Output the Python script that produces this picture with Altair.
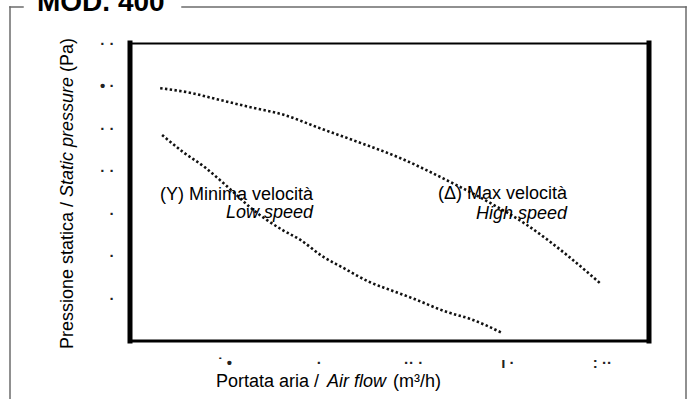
import altair as alt
import pandas as pd

# ---- data ----
high_flow = [160, 330, 460, 650, 810, 1005, 1205, 1430, 1695, 1910, 2105, 2315, 2490]
high_pressure = [297, 291, 284, 274, 266, 250, 234, 215, 187, 162, 136, 101, 68]

low_flow = [170, 281, 397, 487, 567, 636, 726, 811, 901, 1023, 1129, 1272, 1378, 1499, 1680, 1802, 1976]
low_pressure = [242, 222, 204, 187, 171, 157, 142, 130, 119, 99, 86, 69, 60, 50, 34, 26, 9]

# tick labels are unreadable dots in the scan: reproduce them as dots
x_ticks = [500, 1000, 1500, 2000, 2500]
x_tick_text = ["˙ •", "·", "·· ·", "ı ·", ": ··"]
y_ticks = [50, 100, 150, 200, 250, 300, 350]
y_tick_text = ["·", "·", "·", "·  ·", "·  ·", "• ·", "· ·"]

FONT = "Liberation Sans"
W, H = 519, 298
LEFT, TOP = 130, 43


def label_expr(vals, texts):
    expr = "''"
    for v, t in zip(reversed(vals), reversed(texts)):
        expr = f"datum.value == {v} ? '{t}' : ({expr})"
    return expr


df = pd.concat([
    pd.DataFrame({"flow": high_flow, "pressure": high_pressure, "speed": "high"}),
    pd.DataFrame({"flow": low_flow, "pressure": low_pressure, "speed": "low"}),
])

one = pd.DataFrame({"k": [0]})

lines = alt.Chart(df).mark_line(
    color="#111111", strokeWidth=2.6, strokeDash=[2.4, 2.4], interpolate="monotone"
).encode(
    x=alt.X("flow:Q", scale=alt.Scale(domain=[0, 2750], nice=False, zero=False),
            axis=alt.Axis(values=x_ticks, labelExpr=label_expr(x_ticks, x_tick_text),
                          title=None, domain=False, ticks=False, tickSize=0, grid=False,
                          labelPadding=21, labelBaseline="middle", labelFontSize=15,
                          labelFontWeight="bold", labelColor="#222222", labelFont=FONT)),
    y=alt.Y("pressure:Q", scale=alt.Scale(domain=[0, 350], nice=False),
            axis=alt.Axis(values=y_ticks, labelExpr=label_expr(y_ticks, y_tick_text),
                          title=None, domain=False, ticks=False, tickSize=0, grid=False,
                          labelPadding=16, labelFontSize=15, labelFontWeight="bold",
                          labelColor="#222222", labelFont=FONT)),
    detail="speed:N",
)


def hrule(x1, x2, y, w, color="black"):
    return alt.Chart(one).mark_rule(strokeWidth=w, color=color, strokeCap="square").encode(
        x=alt.value(x1), x2=alt.value(x2), y=alt.value(y))


def vrule(x, y1, y2, w, color="black"):
    return alt.Chart(one).mark_rule(strokeWidth=w, color=color, strokeCap="square").encode(
        x=alt.value(x), y=alt.value(y1), y2=alt.value(y2))


def txt(s, x, y, size=18, style="normal", weight="normal", align="left", angle=0):
    kw = dict(font=FONT, fontSize=size, fontStyle=style, fontWeight=weight,
              align=align, baseline="alphabetic", color="black")
    if angle:
        kw["angle"] = angle
    return alt.Chart(one).mark_text(**kw).encode(
        x=alt.value(x), y=alt.value(y), text=alt.value(s))


# plot frame
frame = [
    vrule(0, 0, H, 5),
    vrule(W, 0, H, 5),
    hrule(0, W, 0.5, 2),
    hrule(0, W, H, 3),
]

# outer frame (relative to plot origin)
gray = "#6b6b6b"
outer = [
    hrule(10 - LEFT, 23 - LEFT, 7 - TOP, 1.5, gray),
    hrule(182 - LEFT, 686 - LEFT, 7 - TOP, 1.5, gray),
    vrule(10 - LEFT, 7 - TOP, 420 - TOP, 1.5, gray),
    vrule(686 - LEFT, 7 - TOP, 420 - TOP, 1.5, gray),
]

texts = [
    txt("MOD. 400", 37 - LEFT, 10.5 - TOP, size=28, weight="bold"),
    # x title
    txt("Portata aria /", 216 - LEFT, 387 - TOP),
    txt("Air flow", 327 - LEFT, 387 - TOP, style="italic"),
    txt("(m³/h)", 393 - LEFT, 387 - TOP),
    # y title (rotated)
    txt("Pressione statica /", 72.5 - LEFT, 349 - TOP, angle=270),
    txt("Static pressure", 72.5 - LEFT, 197 - TOP, style="italic", angle=270),
    txt("(Pa)", 72.5 - LEFT, 72 - TOP, angle=270),
    # curve annotations
    txt("(Y) Minima velocità", 313 - LEFT, 200 - TOP, align="right"),
    txt("Low speed", 313 - LEFT, 218 - TOP, style="italic", align="right"),
    txt("(Δ) Max velocità", 567 - LEFT, 199 - TOP, align="right"),
    txt("High speed", 567 - LEFT, 219 - TOP, style="italic", align="right"),
]

chart = alt.layer(lines, *frame, *outer, *texts).properties(
    width=W, height=H,
    padding={"left": LEFT, "top": TOP, "right": 690 - LEFT - W, "bottom": 399 - TOP - H},
    autosize=alt.AutoSizeParams(type="none"),
    background="white",
).configure_view(stroke="transparent")

chart.save("out.html", embed_options={"renderer": "svg", "actions": False})
